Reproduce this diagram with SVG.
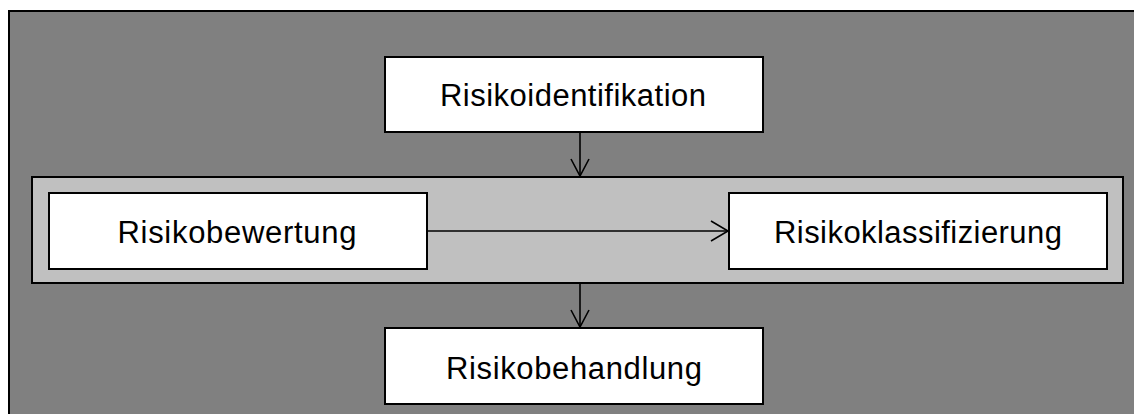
<svg xmlns="http://www.w3.org/2000/svg" width="1134" height="414" viewBox="0 0 1134 414">
  <style>
    .box { fill: #ffffff; stroke: #000000; stroke-width: 2; }
    .label { font-family: "Liberation Sans", Arial, sans-serif; font-size: 31px; fill: #000000; text-anchor: middle; }
    .edge { fill: none; stroke: #000000; stroke-width: 1.6; }
    .head { fill: none; stroke: #000000; stroke-width: 1.6; }
  </style>

  <!-- outer frame -->
  <rect id="frame" x="9" y="11" width="1140" height="420" fill="#808080" stroke="#000000" stroke-width="2"/>

  <!-- assessment group -->
  <rect id="assessment-group" x="32" y="177" width="1091" height="106" fill="#c0c0c0" stroke="#000000" stroke-width="2"/>

  <g id="risikoidentifikation">
    <rect class="box" x="385" y="57" width="378" height="75"/>
    <text class="label" x="573" y="106" textLength="266" lengthAdjust="spacing">Risikoidentifikation</text>
  </g>

  <g id="risikobewertung">
    <rect class="box" x="49" y="193" width="378" height="76"/>
    <text class="label" x="237" y="243" textLength="239" lengthAdjust="spacing">Risikobewertung</text>
  </g>

  <g id="risikoklassifizierung">
    <rect class="box" x="729" y="193" width="378" height="76"/>
    <text class="label" x="918" y="243" textLength="288" lengthAdjust="spacing">Risikoklassifizierung</text>
  </g>

  <g id="risikobehandlung">
    <rect class="box" x="385" y="328" width="378" height="76"/>
    <text class="label" x="574" y="379" textLength="256" lengthAdjust="spacing">Risikobehandlung</text>
  </g>

  <g id="connectors">
    <!-- identification to group -->
    <path class="edge" d="M580 132 V176"/>
    <path class="head" d="M571 159 L580 176 L589 159"/>
    <!-- assessment to classification -->
    <path class="edge" d="M427 231 H728"/>
    <path class="head" d="M711 221 L728 231 L711 241"/>
    <!-- group to treatment -->
    <path class="edge" d="M580 283 V327"/>
    <path class="head" d="M571 310 L580 327 L589 310"/>
  </g>
</svg>
